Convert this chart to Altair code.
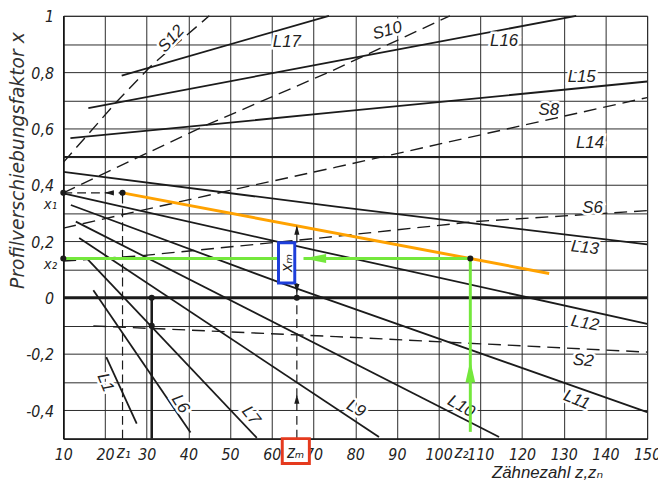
import altair as alt
import pandas as pd

# ---------------- data ----------------
Z_TICKS = [10, 20, 30, 40, 50, 60, 70, 80, 90, 100, 110, 120, 130, 140, 150]
X_GRID = [-0.5, -0.4, -0.3, -0.2, -0.1, 0.0, 0.1, 0.2, 0.3, 0.4, 0.5, 0.6, 0.7, 0.8, 0.9, 1.0]

# solid limit lines
L_NAMES = ["L1", "L6", "L7", "L9", "L10", "L11", "L12", "L13", "L14", "L15", "L16", "L17"]
L_Z = [[20.3, 27.6], [17.2, 40.5], [15.8, 56.4], [13.8, 85.7], [13.0, 114.5],
       [11.8, 62.8, 150.0], [10.0, 70.0, 150.0], [10.0, 75.4, 150.0], [10.0, 150.0],
       [11.7, 75.4, 150.0], [16.0, 75.4, 133.0], [24.0, 73.7]]
L_X = [[-0.211, -0.447], [0.026, -0.478], [0.137, -0.497], [0.212, -0.494], [0.27, -0.494],
       [0.329, 0.049, -0.406], [0.37, 0.17, -0.093], [0.446, 0.323, 0.189], [0.5, 0.5],
       [0.566, 0.658, 0.767], [0.673, 0.839, 1.0], [0.788, 1.0]]

# dashed lines
S_NAMES = ["S12", "S10", "S8", "S6", "S2"]
S_Z = [[10.0, 22.9, 31.2, 45.0], [10.0, 43.8, 73.7, 102.7], [10.0, 50.2, 75.4, 150.0],
       [10.0, 28.0, 73.0, 108.6, 150.0], [17.2, 75.4, 150.0]]
S_X = [[0.48, 0.697, 0.825, 1.0], [0.372, 0.609, 0.8, 1.0], [0.247, 0.3815, 0.463, 0.71],
       [0.13, 0.148, 0.214, 0.27, 0.309], [-0.1, -0.138, -0.193]]

ZERO_Z = [10.0, 150.0]
ZERO_X = [0.0, 0.0]

# worked example
Z1, ZM, Z2 = 24.2, 66.0, 107.6
X1, X2 = 0.372, 0.139
ORANGE_Z = [24.2, 126.5]
ORANGE_X = [0.372, 0.086]

HELP_DASH_NAMES = ["x1", "z1", "zm"]
HELP_DASH_Z = [[10.0, Z1], [Z1, Z1], [ZM, ZM]]
HELP_DASH_X = [[X1, X1], [-0.5, X1], [-0.5, 0.0]]

HELP_SOLID_NAMES = ["zm_top", "zm_bot"]
HELP_SOLID_Z = [[ZM, ZM], [ZM, ZM]]
HELP_SOLID_X = [[0.195, 0.255], [0.0, 0.0525]]

THICK_V_Z = [31.2, 31.2]
THICK_V_X = [0.0, -0.5]

GREEN_NAMES = ["g_left", "g_right", "g_up"]
GREEN_Z = [[10.0, 61.6], [67.6, Z2], [Z2, Z2]]
GREEN_X = [[X2, X2], [X2, X2], [-0.476, X2]]

DOT_Z = [10.0, 10.0, Z1, 31.2, 31.2, ZM, Z2]
DOT_X = [X1, X2, X1, 0.0, -0.1, 0.0, X2]

ARROW_Z = [21.0, ZM, ZM, ZM]
ARROW_X = [X1, 0.240, 0.032, -0.36]
ARROW_DIR = ["left", "up", "down", "up"]

G_ARROW_Z = [70.3, Z2]
G_ARROW_X = [X2, -0.2625]
G_ARROW_DIR = ["left", "up"]

LABELS = ["S12", "L17", "S10", "L16", "L15", "S8", "L14", "S6", "L13", "L12", "S2",
          "L11", "L10", "L9", "L7", "L6", "L1"]
LABEL_Z = [35.9, 63.6, 87.7, 115.7, 134.3, 126.4, 136.3, 136.9, 135.1, 135.1, 134.7,
           133.1, 105.4, 80.2, 55.0, 38.1, 20.1]
LABEL_X = [0.918, 0.9065, 0.947, 0.912, 0.784, 0.667, 0.547, 0.317, 0.177, -0.091, -0.223,
           -0.363, -0.386, -0.394, -0.418, -0.377, -0.301]
LABEL_ANGLE = [312, 0, 345, 0, 0, 0, 0, 0, 6, 10, 6, 22, 30, 30, 52, 58, 68]

XM_BOX = dict(z=61.6, z_end=65.5, x=0.0525, x_end=0.195)
ZM_BOX = dict(z=62.5, z_end=69.0, x=-0.5, x_end=-0.588)

AX_LABELS = ["z₁", "zₘ", "z₂"]
AX_LABEL_Z = [24.5, 65.7, 105.5]
Y_EXTRA_LABELS = ["x₁", "x₂"]
Y_EXTRA_X = [X1, X2]
Y_EXTRA_DY = [11, 6]

# ---------------- styling ----------------
FONT = "Liberation Sans Narrow, DejaVu Sans Condensed, Liberation Sans, sans-serif"
LFONT = "Liberation Sans, DejaVu Sans, sans-serif"
INK = "#1b1b1b"
ORANGE = "#FFA200"
GREEN = "#74E83C"
BLUE = "#1E3FDB"
RED = "#E53A1E"
PATHS = {
    "left": "M-1,0L1,-0.55L1,0.55Z",
    "up": "M0,-1L0.55,1L-0.55,1Z",
    "down": "M0,1L0.55,-1L-0.55,-1Z",
}
G_PATHS = {
    "left": "M-1,0L1,-0.4L1,0.4Z",
    "up": "M0,-1L0.45,1L-0.45,1Z",
}


def lines_df(names, zs, xs):
    rows = []
    for n, zz, xx in zip(names, zs, xs):
        for i, (z, x) in enumerate(zip(zz, xx)):
            rows.append({"id": n, "i": i, "z": z, "x": x})
    return pd.DataFrame(rows)


y_label_expr = ("abs(round(datum.value*10)) % 2 == 0 ? "
                "(datum.value < 0 ? '-' : '') + replace(toString(abs(datum.value)), '.', ',') : ''")

X_ENC = alt.X("z:Q", scale=alt.Scale(domain=[10, 150], nice=False, zero=False),
              axis=alt.Axis(values=Z_TICKS, grid=True, gridColor="#2a2a2a", gridWidth=1,
                            ticks=False, domainColor="#111", domainWidth=1.5,
                            labelFont=FONT, labelFontSize=16, labelFontStyle="italic",
                            labelColor="#222", labelPadding=8, labelFlush=False,
                            labelOverlap=False,
                            title="Zähnezahl z,zₙ", titleFont=LFONT, titleFontSize=17,
                            titleFontStyle="italic", titleFontWeight="normal",
                            titleColor="#222", titleX=546, titleY=39,
                            titleAlign="right", titleBaseline="alphabetic"))
Y_ENC = alt.Y("x:Q", scale=alt.Scale(domain=[-0.5, 1.0], nice=False, zero=False),
              axis=alt.Axis(values=X_GRID, grid=True, gridColor="#2a2a2a", gridWidth=1,
                            ticks=False, domainColor="#111", domainWidth=1.5,
                            labelExpr=y_label_expr, labelFont=FONT, labelFontSize=16,
                            labelFontStyle="italic", labelColor="#222", labelPadding=10,
                            labelOffset=1,
                            labelOverlap=False, labelFlush=False,
                            title="Profilverschiebungsfaktor x", titleFont="DejaVu Sans",
                            titleFontSize=19, titleFontStyle="italic",
                            titleFontWeight="normal", titleColor="#333",
                            titleX=-46, titleY=146, titleAngle=270,
                            titleAlign="center", titleBaseline="middle"))

L_df = lines_df(L_NAMES, L_Z, L_X)
S_df = lines_df(S_NAMES, S_Z, S_X)
zero_df = lines_df(["zero"], [ZERO_Z], [ZERO_X])
orange_df = lines_df(["orange"], [ORANGE_Z], [ORANGE_X])
hd_df = lines_df(HELP_DASH_NAMES, HELP_DASH_Z, HELP_DASH_X)
hs_df = lines_df(HELP_SOLID_NAMES, HELP_SOLID_Z, HELP_SOLID_X)
tv_df = lines_df(["thick"], [THICK_V_Z], [THICK_V_X])
green_df = lines_df(GREEN_NAMES, GREEN_Z, GREEN_X)

ORDER = alt.Order("i:Q")

l_layer = alt.Chart(L_df).mark_line(color=INK, strokeWidth=1.8).encode(
    x=X_ENC, y=Y_ENC, detail="id:N", order=ORDER)
s_layer = alt.Chart(S_df).mark_line(color=INK, strokeWidth=1.4, strokeDash=[13, 7]).encode(
    x=X_ENC, y=Y_ENC, detail="id:N", order=ORDER)
zero_layer = alt.Chart(zero_df).mark_line(color=INK, strokeWidth=3).encode(
    x=X_ENC, y=Y_ENC, order=ORDER)
hd_layer = alt.Chart(hd_df).mark_line(color=INK, strokeWidth=1.2, strokeDash=[9, 5]).encode(
    x=X_ENC, y=Y_ENC, detail="id:N", order=ORDER)
hs_layer = alt.Chart(hs_df).mark_line(color=INK, strokeWidth=1.2).encode(
    x=X_ENC, y=Y_ENC, detail="id:N", order=ORDER)
tv_layer = alt.Chart(tv_df).mark_line(color=INK, strokeWidth=2.6).encode(
    x=X_ENC, y=Y_ENC, order=ORDER)
orange_layer = alt.Chart(orange_df).mark_line(color=ORANGE, strokeWidth=3).encode(
    x=X_ENC, y=Y_ENC, order=ORDER)
green_layer = alt.Chart(green_df).mark_line(color=GREEN, strokeWidth=3).encode(
    x=X_ENC, y=Y_ENC, detail="id:N", order=ORDER)

dots_df = pd.DataFrame({"z": DOT_Z, "x": DOT_X})
dots_layer = alt.Chart(dots_df).mark_point(filled=True, color=INK, size=38, opacity=1).encode(
    x=X_ENC, y=Y_ENC)

arrows_df = pd.DataFrame({"z": ARROW_Z, "x": ARROW_X,
                          "shape": [PATHS[d] for d in ARROW_DIR]})
arrows_layer = alt.Chart(arrows_df).mark_point(filled=True, color=INK, size=90, opacity=1).encode(
    x=X_ENC, y=Y_ENC, shape=alt.Shape("shape:N", scale=None))

garrows_df = pd.DataFrame({"z": G_ARROW_Z, "x": G_ARROW_X,
                           "shape": [G_PATHS[d] for d in G_ARROW_DIR],
                           "size": [529, 484]})
garrows_layer = alt.Chart(garrows_df).mark_point(filled=True, color=GREEN, opacity=1).encode(
    x=X_ENC, y=Y_ENC, shape=alt.Shape("shape:N", scale=None),
    size=alt.Size("size:Q", scale=None))

xm_df = pd.DataFrame([XM_BOX])
xm_box = alt.Chart(xm_df).mark_rect(fill="white", stroke=BLUE, strokeWidth=3).encode(
    x=X_ENC, x2="z_end:Q", y=Y_ENC, y2="x_end:Q")
zm_df = pd.DataFrame([ZM_BOX])
zm_box = alt.Chart(zm_df).mark_rect(fill="white", stroke=RED, strokeWidth=3).encode(
    x=X_ENC, x2="z_end:Q", y=Y_ENC, y2="x_end:Q")

xm_text_df = pd.DataFrame({"z": [(XM_BOX["z"] + XM_BOX["z_end"]) / 2],
                           "x": [(XM_BOX["x"] + XM_BOX["x_end"]) / 2], "t": ["xₘ"]})
xm_text = alt.Chart(xm_text_df).mark_text(font=LFONT, fontSize=16, fontStyle="italic",
                                          color="#222", angle=270).encode(
    x=X_ENC, y=Y_ENC, text="t:N")

lab_df = pd.DataFrame({"z": LABEL_Z, "x": LABEL_X, "t": LABELS, "angle": LABEL_ANGLE})
lab_halo = alt.Chart(lab_df).mark_text(font=LFONT, fontSize=17, fontStyle="italic",
                                       color="white", stroke="white", strokeWidth=5).encode(
    x=X_ENC, y=Y_ENC, text="t:N", angle=alt.Angle("angle:Q", scale=None))
lab_text = alt.Chart(lab_df).mark_text(font=LFONT, fontSize=17, fontStyle="italic",
                                       color="#222").encode(
    x=X_ENC, y=Y_ENC, text="t:N", angle=alt.Angle("angle:Q", scale=None))

axl_df = pd.DataFrame({"z": AX_LABEL_Z, "x": [-0.5] * 3, "t": AX_LABELS})
axl_text = alt.Chart(axl_df).mark_text(font=FONT, fontSize=17, fontStyle="italic",
                                       color="#222", baseline="middle", dy=15).encode(
    x=X_ENC, y=Y_ENC, text="t:N")

yl_layers = []
for t, xv, dyv in zip(Y_EXTRA_LABELS, Y_EXTRA_X, Y_EXTRA_DY):
    yl_df = pd.DataFrame({"z": [10.0], "x": [xv], "t": [t]})
    yl_layers.append(alt.Chart(yl_df).mark_text(font=FONT, fontSize=15, fontStyle="italic",
                                                color="#222", baseline="middle",
                                                dx=-13, dy=dyv).encode(
        x=X_ENC, y=Y_ENC, text="t:N"))

chart = alt.layer(
    s_layer, l_layer, zero_layer, hd_layer, hs_layer, tv_layer,
    lab_halo, lab_text,
    orange_layer, green_layer, garrows_layer,
    xm_box, xm_text, dots_layer, arrows_layer,
    zm_box, axl_text, *yl_layers,
).properties(
    width=591, height=428,
    autosize=alt.AutoSizeParams(type="none"),
    padding={"left": 56, "top": 5, "right": 11, "bottom": 43},
).configure_view(stroke="#2a2a2a", strokeWidth=1)

chart.save("out.html", embed_options={"renderer": "svg", "actions": False})
